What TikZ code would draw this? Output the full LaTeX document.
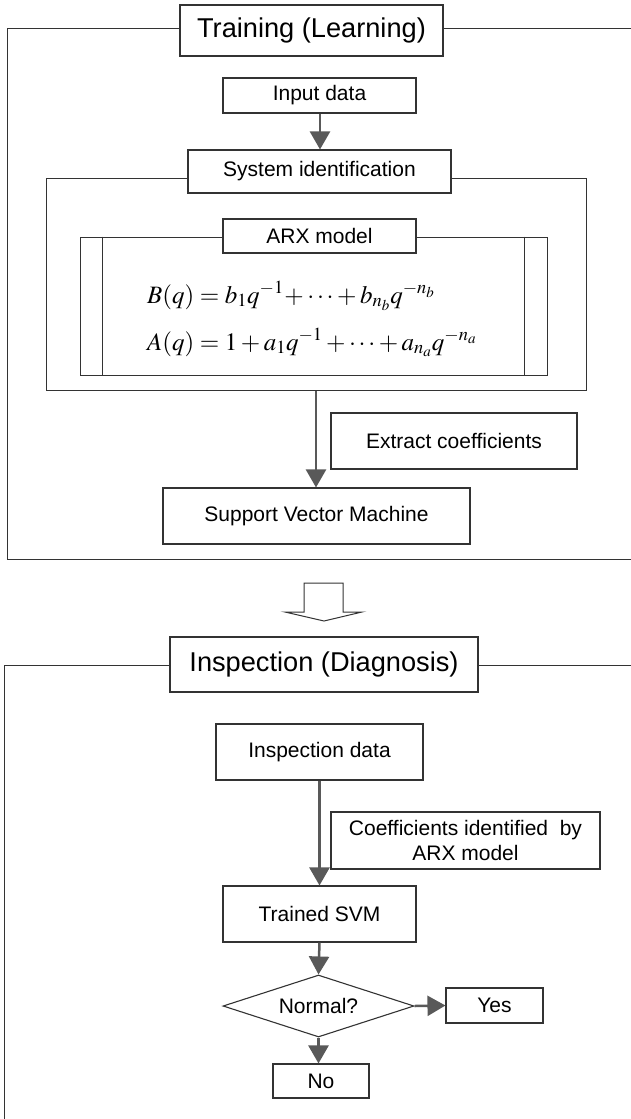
\documentclass[tikz,border=0pt]{standalone}
\usepackage{mathptmx}
\usepackage[no-math]{fontspec}
\setmainfont{Liberation Sans}
\usetikzlibrary{arrows.meta,shapes.geometric}
\definecolor{linec}{HTML}{333333}
\definecolor{arrc}{HTML}{595959}
\begin{document}
\begin{tikzpicture}[x=1pt,y=-1pt,
  box/.style={draw=linec,line width=1.1pt,fill=white,inner sep=0pt,align=center,font=\fontsize{21}{25}\selectfont},
  titlebox/.style={box,font=\fontsize{27.2}{30}\selectfont},
  frame/.style={draw=linec,line width=1pt},
  flow/.style={draw=arrc,line width=2.5pt,-{Triangle[length=18pt,width=20pt]}},
  eq/.style={anchor=base west,inner sep=0pt,font=\fontsize{25}{30}\selectfont}]
\useasboundingbox (0,0) rectangle (631,1119);
% ---------- Training ----------
\node[titlebox,minimum width=263,minimum height=51] (ttitle) at (311.5,30.5) {Training (Learning)};
\coordinate (tl) at (7,28);
\coordinate (tbl) at (7,559);
\coordinate (tbr) at (631,559);
\coordinate (ttr) at (631,28);
\draw[frame] (ttitle.west |- tl) -- (tl) -- (tbl) -- (tbr);
\draw[frame] (ttitle.east |- ttr) -- (ttr);
\node[box,minimum width=193,minimum height=35] (input) at (319.5,95.5) {Input data};
\node[frame,rectangle,minimum width=540,minimum height=212,inner sep=0pt] (siframe) at (316,284) {};
\node[frame,rectangle,minimum width=467,minimum height=138,inner sep=0pt] (arxframe) at (313.5,306) {};
\draw[frame] ([xshift=23]arxframe.north west) -- ([xshift=23]arxframe.south west);
\draw[frame] ([xshift=-23]arxframe.north east) -- ([xshift=-23]arxframe.south east);
\node[box,minimum width=263,minimum height=43] (sititle) at (319.5,171.5) {System identification};
\node[box,minimum width=193,minimum height=34] (arxtitle) at (319.5,236) {ARX model};
\node[eq] (eqb) at (147,303) {$B(q)=b_1q^{-1}\!+\cdots+b_{n_b}q^{-n_b}$};
\node[eq] (eqa) at (147,350) {$A(q)=1+a_1q^{-1}+\cdots+a_{n_a}q^{-n_a}$};
\node[box,minimum width=246,minimum height=56] (extract) at (454,441) {Extract coefficients};
\node[box,minimum width=307,minimum height=56] (svm) at (316.5,516) {Support Vector Machine};
\draw[flow] (input.south -| 320,0) -- (sititle.north -| 320,0);
\draw[flow] (siframe.south) -- (svm.north -| siframe.south);
% ---------- hollow arrow ----------
\draw[draw=linec,line width=1pt,fill=white] (304,583) -- (343,583) -- (343,612) -- (362,612) -- (324,621) -- (285,612) -- (304,612) -- cycle;
% ---------- Inspection ----------
\node[titlebox,minimum width=308,minimum height=55] (ititle) at (324,664.5) {Inspection (Diagnosis)};
\coordinate (il) at (4,665);
\coordinate (ibl) at (4,1119);
\coordinate (itr) at (631,665);
\draw[frame] (ititle.west |- il) -- (il) -- (ibl);
\draw[frame] (ititle.east |- itr) -- (itr);
\node[box,minimum width=207,minimum height=56] (idata) at (319.5,752) {Inspection data};
\node[box,minimum width=269,minimum height=57] (coef) at (465.5,840.5) {Coefficients identified\ \ by\\ARX model};
\node[box,minimum width=193,minimum height=56] (tsvm) at (319.5,914) {Trained SVM};
\node[box,diamond,aspect=3.08,minimum width=191,minimum height=62] (normal) at (318.5,1006) {Normal?};
\node[box,minimum width=97,minimum height=35] (yes) at (494.5,1005.5) {Yes};
\node[box,minimum width=96,minimum height=34] (no) at (321,1081) {No};
\draw[flow] (idata.south) -- (tsvm.north);
\draw[flow] (tsvm.south) -- (normal.north);
\draw[flow] (normal.east) -- (yes.west);
\draw[flow] (normal.south) -- (no.north -| normal.south);
\end{tikzpicture}
\end{document}
